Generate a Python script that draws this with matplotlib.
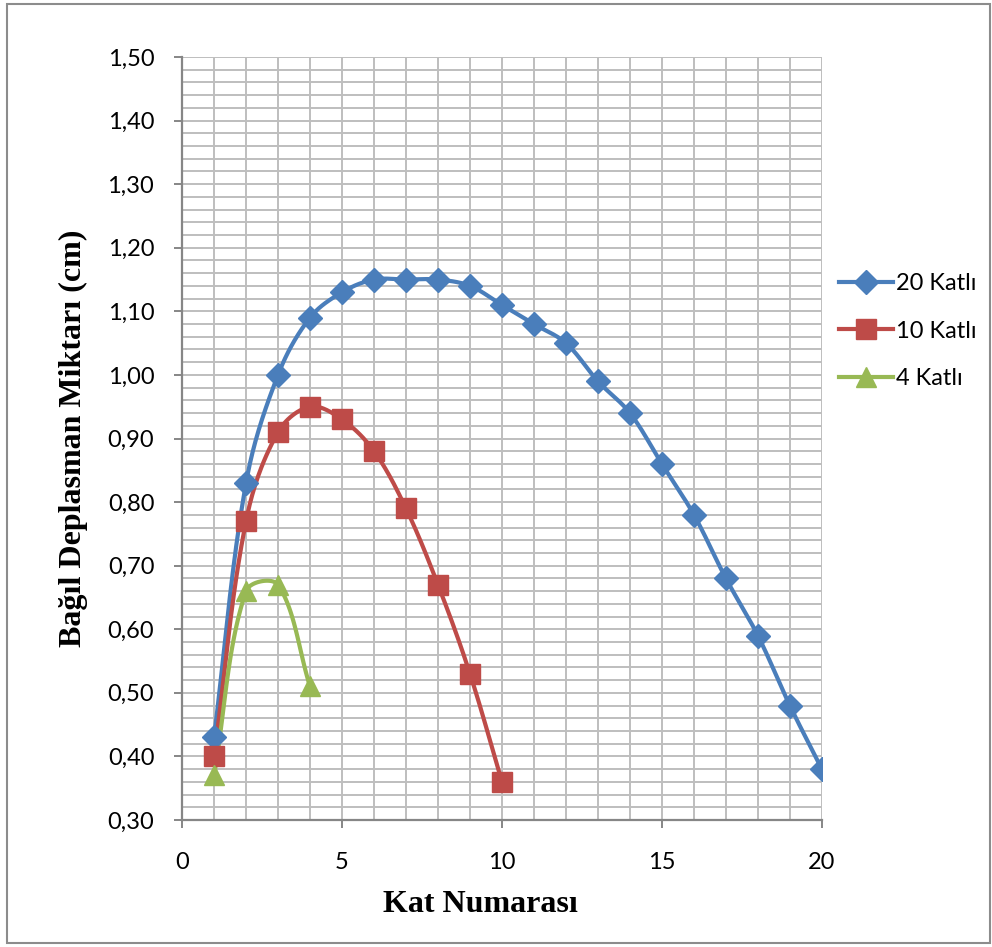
import numpy as np
import matplotlib
matplotlib.use('Agg')
import matplotlib.pyplot as plt
from matplotlib import ticker
from matplotlib.patches import Rectangle

kat_20 = list(range(1, 21))
deplasman_20 = [0.43, 0.83, 1.00, 1.09, 1.13, 1.15, 1.15, 1.15, 1.14, 1.11,
                1.08, 1.05, 0.99, 0.94, 0.86, 0.78, 0.68, 0.59, 0.48, 0.38]
kat_10 = list(range(1, 11))
deplasman_10 = [0.40, 0.77, 0.91, 0.95, 0.93, 0.88, 0.79, 0.67, 0.53, 0.36]
kat_4 = [1, 2, 3, 4]
deplasman_4 = [0.37, 0.66, 0.67, 0.51]

labels = ['20 Katlı', '10 Katlı', '4 Katlı']
colors = ['#4A7EBB', '#BE4B48', '#98B954']
markers = ['D', 's', '^']

# axis ranges, also used to scale the smoothing to screen proportions
x_min, x_max = 0, 20
y_min, y_max = 0.30, 1.50


def smooth(x, y, sx, sy, n=30, t=0.35):
    # excel-like smoothed line: bezier segments, control points weighted by
    # the on-screen length of neighbouring segments
    pts = np.column_stack([np.asarray(x, float), np.asarray(y, float)])
    scale = np.array([sx, sy])

    def dist(a, b):
        return np.hypot(*((a - b) * scale))

    out = []
    for i in range(len(pts) - 1):
        p1 = pts[i]
        p2 = pts[i + 1]
        d12 = dist(p1, p2)
        if i > 0:
            p0 = pts[i - 1]
            d01 = dist(p0, p1)
            c1 = p1 + t * d12 / (d01 + d12) * (p2 - p0)
        else:
            c1 = p1 + t * (p2 - p1)
        if i + 2 < len(pts):
            p3 = pts[i + 2]
            d23 = dist(p2, p3)
            c2 = p2 - t * d12 / (d12 + d23) * (p3 - p1)
        else:
            c2 = p2 - t * (p2 - p1)
        s = np.linspace(0, 1, n)[:, None]
        seg = ((1 - s) ** 3 * p1 + 3 * (1 - s) ** 2 * s * c1
               + 3 * (1 - s) * s ** 2 * c2 + s ** 3 * p2)
        out.append(seg if i == 0 else seg[1:])
    seg = np.vstack(out)
    return seg[:, 0], seg[:, 1]


plt.rcParams['font.family'] = ['Lato', 'DejaVu Sans']

fig = plt.figure(figsize=(9.92, 9.47), dpi=100)
fig.patches.append(Rectangle((0.007, 0.004), 0.991, 0.992, transform=fig.transFigure,
                             fill=False, edgecolor='#8C8C8C', linewidth=1.5))
ax = fig.add_axes([0.1835, 0.1341, 0.645, 0.8057])

# pixels per data unit, for the smoothing
px_x = 0.645 * 992 / (x_max - x_min)
px_y = 0.8057 * 947 / (y_max - y_min)

series = [(kat_20, deplasman_20), (kat_10, deplasman_10), (kat_4, deplasman_4)]
msizes = [12, 14, 14]
for (x, y), lab, c, m, ms in zip(series, labels, colors, markers, msizes):
    sx, sy = smooth(x, y, px_x, px_y)
    ax.plot(sx, sy, color=c, linewidth=3, zorder=3)
    ax.plot(x, y, linestyle='none', marker=m, markersize=ms, color=c, zorder=4)
    ax.plot([], [], color=c, linewidth=3, marker=m, markersize=ms, label=lab)

ax.set_xlim(x_min, x_max)
ax.set_ylim(y_min, y_max)
ax.xaxis.set_major_locator(ticker.MultipleLocator(5))
ax.xaxis.set_minor_locator(ticker.MultipleLocator(1))
ax.yaxis.set_major_locator(ticker.MultipleLocator(0.1))
ax.yaxis.set_minor_locator(ticker.MultipleLocator(0.02))
ax.yaxis.set_major_formatter(ticker.FuncFormatter(lambda v, p: f'{v:.2f}'.replace('.', ',')))
ax.grid(which='both', color='#BEBEBE', linewidth=1.4, zorder=0)
ax.set_axisbelow(True)
ax.tick_params(which='major', direction='out', length=6, width=1.4, color='#868686',
               labelsize=17)
ax.tick_params(axis='y', pad=14)
ax.tick_params(axis='x', pad=17)
ax.tick_params(which='minor', length=0)
for side in ['top', 'right']:
    ax.spines[side].set_visible(False)
for side in ['left', 'bottom']:
    ax.spines[side].set_color('#868686')
    ax.spines[side].set_linewidth(1.6)

ax.set_xlabel('Kat Numarası', fontfamily='Liberation Serif', fontweight='bold',
              fontsize=23)
ax.xaxis.set_label_coords(0.467, -0.092)
ax.set_ylabel('Bağıl Deplasman Miktarı (cm)', fontfamily='Liberation Serif',
              fontweight='bold', fontsize=23, labelpad=14)

fig.legend(loc='center left', bbox_to_anchor=(839 / 992, 1 - 331 / 947), frameon=False,
           fontsize=17, handlelength=2.3, handletextpad=0.1, labelspacing=1.12,
           borderaxespad=0, borderpad=0)

fig.savefig('out.png', dpi=100)
